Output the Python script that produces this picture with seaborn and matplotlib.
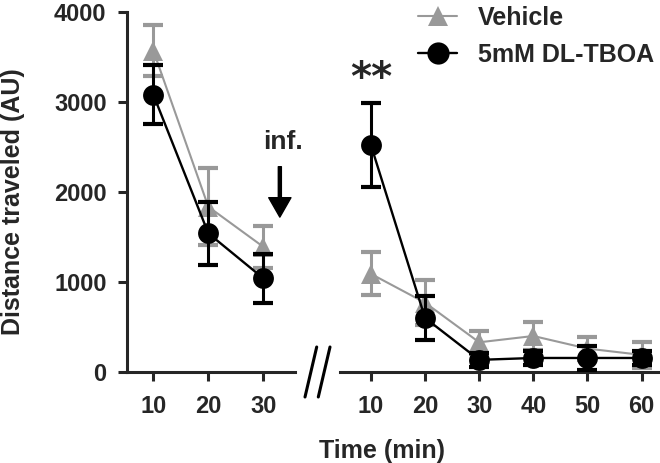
import matplotlib
matplotlib.use('Agg')
import matplotlib.pyplot as plt
from matplotlib.lines import Line2D
import seaborn as sns
import numpy as np

# values (mean +/- SEM)
time_pre = [10, 20, 30]
time_post = [10, 20, 30, 40, 50, 60]

veh_pre = [3570, 1835, 1390]
veh_pre_sem = [280, 430, 230]
tboa_pre = [3080, 1540, 1040]
tboa_pre_sem = [330, 350, 270]

veh_post = [1090, 770, 330, 400, 260, 190]
veh_post_sem = [240, 250, 125, 156, 125, 140]
tboa_post = [2520, 600, 135, 156, 156, 156]
tboa_post_sem = [470, 244, 80, 80, 130, 80]

labels = ['Vehicle', '5mM DL-TBOA']
gray = '#999999'

sns.set_style('ticks')
plt.rcParams['font.family'] = ['Liberation Sans', 'DejaVu Sans']
plt.rcParams['font.weight'] = 'bold'

fig = plt.figure(figsize=(6.6, 4.63), dpi=100)
ax1 = fig.add_axes([0.192, 0.1965, 0.255, 0.778])
ax2 = fig.add_axes([0.515, 0.1965, 0.485, 0.778], sharey=ax1)


def draw(ax, x, veh, veh_sem, tboa, tboa_sem):
    ax.errorbar(x, veh, yerr=veh_sem, fmt='none', ecolor=gray, elinewidth=2.2,
                capsize=7.5, capthick=3, zorder=2, clip_on=False)
    sns.lineplot(x=x, y=veh, ax=ax, color=gray, marker='^', markersize=15,
                 markeredgewidth=0, linewidth=1.5, zorder=3, clip_on=False)
    ax.errorbar(x, tboa, yerr=tboa_sem, fmt='none', ecolor='black', elinewidth=2.2,
                capsize=7.5, capthick=3, zorder=4, clip_on=False)
    sns.lineplot(x=x, y=tboa, ax=ax, color='black', marker='o', markersize=15,
                 markeredgewidth=0, linewidth=1.7, zorder=5, clip_on=False)


draw(ax1, time_pre, veh_pre, veh_pre_sem, tboa_pre, tboa_pre_sem)
draw(ax2, time_post, veh_post, veh_post_sem, tboa_post, tboa_post_sem)

ax1.set_xlim(5.16, 35.76)
ax2.set_xlim(4.27, 63.4)
ax1.set_ylim(0, 4000)
ax1.set_xticks(time_pre)
ax2.set_xticks(time_post)
ax1.set_yticks([0, 1000, 2000, 3000, 4000])

for ax in (ax1, ax2):
    sns.despine(ax=ax)
    for s in ax.spines.values():
        s.set_linewidth(2.2)
    ax.tick_params(axis='both', width=2.2, length=6.5, labelsize=17)
    ax.tick_params(axis='x', pad=10)
    ax.tick_params(axis='y', pad=8)
    ax.set_xlabel('')
    ax.set_ylabel('')
    for t in ax.get_xticklabels() + ax.get_yticklabels():
        t.set_fontweight('bold')

ax2.spines['left'].set_visible(False)
ax2.tick_params(axis='y', left=False, labelleft=False)

# annotations
ax2.text(10, 3250, '**', ha='center', va='center', fontsize=29, fontweight='bold',
         family='DejaVu Sans')
ax1.text(33.6, 2556, 'inf.', ha='center', va='center', fontsize=19,
         fontweight='bold', clip_on=False)
ax1.annotate('', xy=(33.0, 1720), xytext=(33.0, 2280),
             arrowprops=dict(facecolor='black', edgecolor='black', width=2.2,
                             headwidth=16, headlength=14, shrink=0),
             annotation_clip=False)

# axis break marks
H = 463.0
W = 660.0
for x0 in (305, 318.3):
    fig.add_artist(Line2D([x0 / W, (x0 + 11.7) / W], [1 - 397 / H, 1 - 347 / H],
                          color='black', linewidth=2.2))

fig.text(13 / W, 1 - 202 / H, 'Distance traveled (AU)', rotation=90,
         ha='center', va='center', fontsize=18, fontweight='bold')
fig.text(382 / W, 1 - 451 / H, 'Time (min)', ha='center', va='center',
         fontsize=18, fontweight='bold')

handles = [
    Line2D([], [], color=gray, marker='^', markersize=15, markeredgewidth=0, linewidth=1.5),
    Line2D([], [], color='black', marker='o', markersize=16, markeredgewidth=0, linewidth=1.7),
]
fig.legend(handles, labels, loc='upper left', bbox_to_anchor=(418 / W, 0.988),
           frameon=False, borderpad=0, borderaxespad=0,
           handlelength=1.56, handletextpad=0.84, labelspacing=0.52,
           prop={'weight': 'bold', 'size': 18})

fig.savefig('out.png', dpi=100)
